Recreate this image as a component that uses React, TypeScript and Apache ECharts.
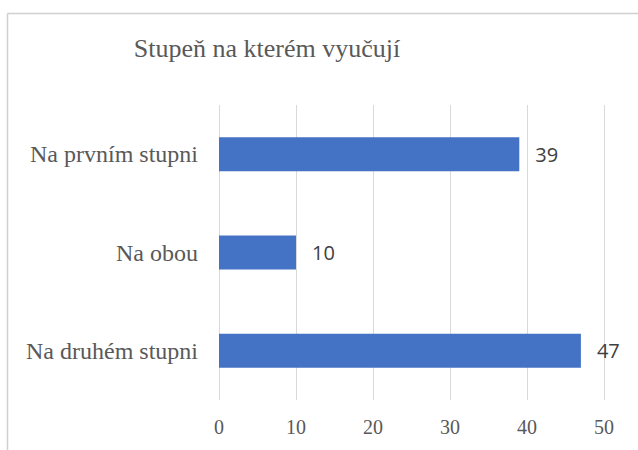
import React, { useEffect, useRef } from "react";
import * as echarts from "echarts";

const titleText = "Stupeň na kterém vyučují";
const categories = ["Na prvním stupni", "Na obou", "Na druhém stupni"];
const values = [39, 10, 47];
const axisMin = 0;
const axisMax = 50;
const axisInterval = 10;

const SERIF = "Liberation Serif";

export default function App() {
  const ref = useRef<HTMLDivElement>(null);
  useEffect(() => {
    if (!ref.current) return;
    const chart = echarts.init(ref.current, undefined, { renderer: "svg" });
    chart.setOption({
      animation: false,
      backgroundColor: "#ffffff",
      graphic: [
        {
          type: "line",
          shape: { x1: 7.5, y1: 13.5, x2: 640, y2: 13.5 },
          style: { stroke: "#d0d0d0", lineWidth: 1.5 },
          z: -1,
        },
        {
          type: "line",
          shape: { x1: 7.5, y1: 13.5, x2: 7.5, y2: 452 },
          style: { stroke: "#d0d0d0", lineWidth: 1.5 },
          z: -1,
        },
        {
          type: "text",
          x: 267,
          y: 48,
          style: {
            text: titleText,
            fill: "#595959",
            fontFamily: SERIF,
            fontSize: 26,
            align: "center",
            verticalAlign: "middle",
          },
        },
      ],
      grid: { left: 219, right: 34, top: 105, bottom: 50, containLabel: false },
      xAxis: {
        type: "value",
        min: axisMin,
        max: axisMax,
        interval: axisInterval,
        axisLine: { show: false },
        axisTick: { show: false },
        splitLine: { lineStyle: { color: "#d9d9d9", width: 1 } },
        axisLabel: {
          color: "#595959",
          fontFamily: SERIF,
          fontSize: 20,
          margin: 17,
        },
      },
      yAxis: {
        type: "category",
        data: categories,
        inverse: true,
        axisLine: { show: false },
        axisTick: { show: false },
        axisLabel: {
          color: "#595959",
          fontFamily: SERIF,
          fontSize: 24,
          margin: 21,
        },
      },
      series: [
        {
          type: "bar",
          data: values,
          barWidth: 34,
          itemStyle: { color: "#4472c4" },
          label: {
            show: true,
            position: "right",
            distance: 16,
            color: "#404040",
            fontFamily: "Open Sans",
            fontSize: 20,
          },
        },
      ],
    });
    return () => chart.dispose();
  }, []);
  return (
    <div
      ref={ref}
      style={{ position: "fixed", left: 0, top: 0, width: 638, height: 450 }}
    />
  );
}
